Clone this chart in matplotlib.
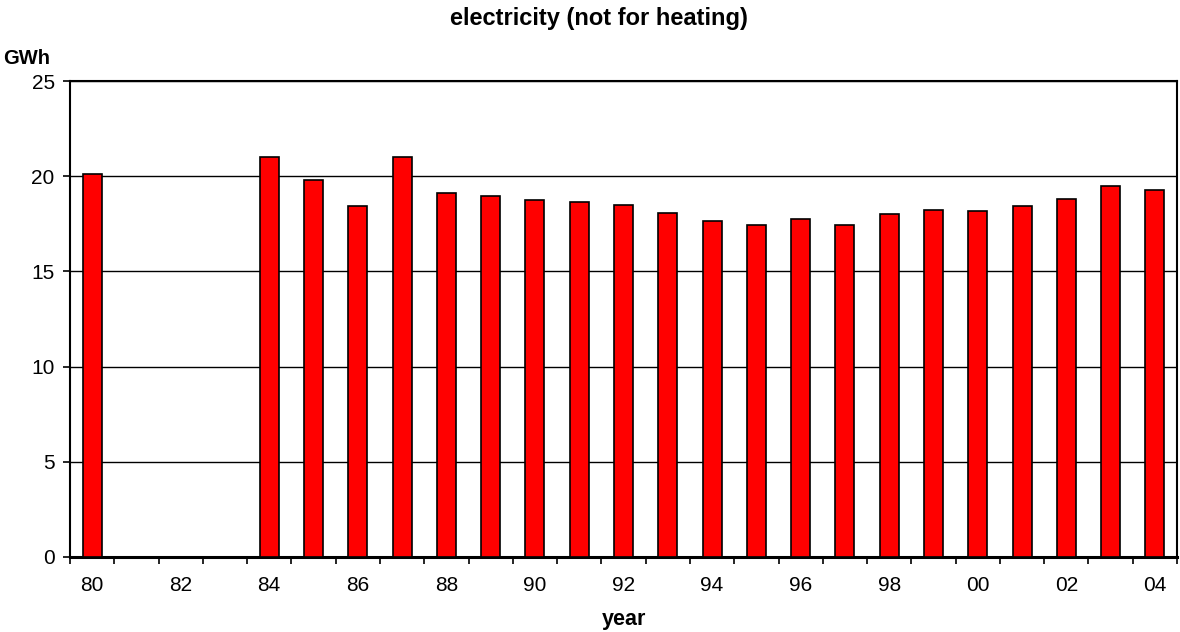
import matplotlib.pyplot as plt
import numpy as np

plt.rcParams['font.family'] = ['Liberation Sans', 'DejaVu Sans']

years = ['80', '81', '82', '83', '84', '85', '86', '87', '88', '89', '90', '91', '92',
         '93', '94', '95', '96', '97', '98', '99', '00', '01', '02', '03', '04']
electricity = [20.1, 0, 0, 0, 21.0, 19.8, 18.45, 21.0, 19.1, 18.95, 18.75, 18.65, 18.5,
               18.07, 17.65, 17.45, 17.75, 17.45, 18.0, 18.2, 18.15, 18.45, 18.8, 19.5, 19.25]
y_ticks = [0, 5, 10, 15, 20, 25]

fig = plt.figure(figsize=(11.8, 6.32), dpi=100)
ax = fig.add_axes([0.0593, 0.1187, 0.9382, 0.7531])

x = np.arange(len(years))
ax.bar(x, electricity, width=0.43, color='#ff0000', edgecolor='black', linewidth=1.2, zorder=3)

ax.set_xlim(-0.5, len(years) - 0.5)
ax.set_ylim(0, 25)
ax.set_yticks(y_ticks)
ax.yaxis.grid(True, color='black', linewidth=1.0, zorder=0)

# tick marks between categories, labels every second year
ax.set_xticks(np.arange(-0.5, len(years), 1.0))
ax.set_xticklabels([])
ax.set_xticks(x[::2], minor=True)
ax.set_xticklabels(years[::2], minor=True)
ax.tick_params(axis='x', which='minor', length=0, pad=14, labelsize=15)
ax.tick_params(axis='x', which='major', length=5, width=1.2, direction='out')
ax.tick_params(axis='y', length=5, width=1.2, direction='out', labelsize=15, pad=6)

for s in ax.spines.values():
    s.set_linewidth(1.5)
    s.set_color('black')
ax.spines['bottom'].set_linewidth(2.2)

fig.text(599 / 1180, 1 - 18 / 632, 'electricity (not for heating)', ha='center', va='center',
         fontsize=17, fontweight='bold')
fig.text(3 / 1180, 1 - 58 / 632, 'GWh', ha='left', va='center', fontsize=14.5, fontweight='bold')
fig.text(624 / 1180, 1 - 620 / 632, 'year', ha='center', va='center', fontsize=15.5, fontweight='bold')

fig.savefig('out.png', dpi=100)
